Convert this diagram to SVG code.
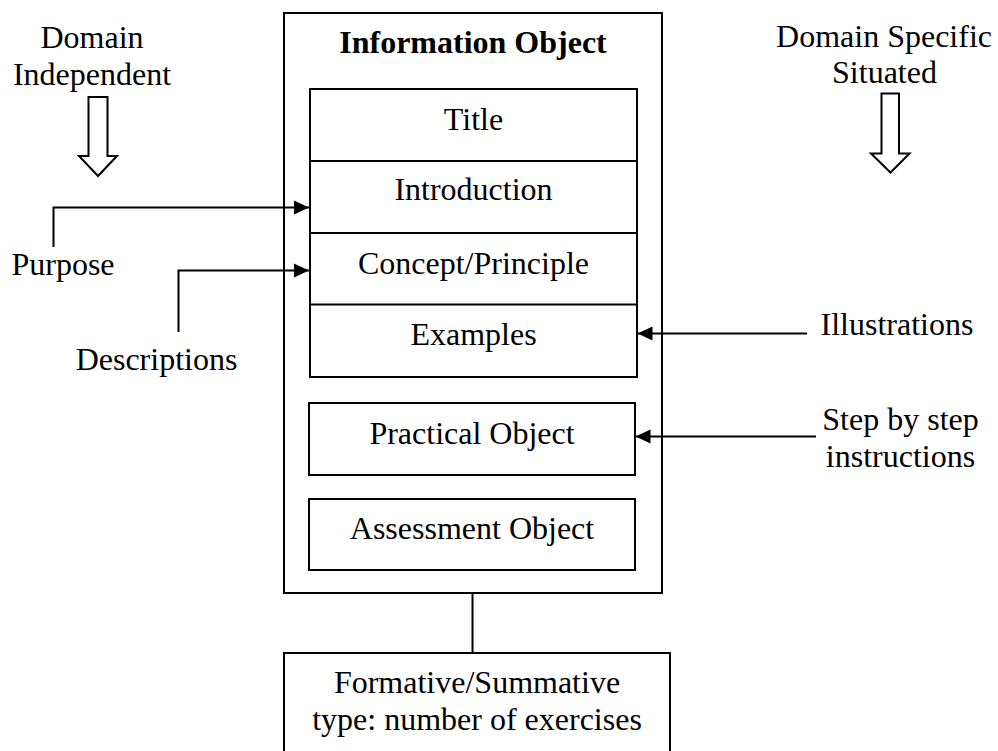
<svg xmlns="http://www.w3.org/2000/svg" width="998" height="751" viewBox="0 0 998 751">
  <style>
    .box { fill: #fff; stroke: #000; stroke-width: 2; }
    .line { fill: none; stroke: #000; stroke-width: 2; }
    .hollow { fill: #fff; stroke: #000; stroke-width: 2; stroke-linejoin: miter; }
    text { font-family: "Liberation Serif", "Times New Roman", serif; font-size: 32px; fill: #000; text-anchor: middle; }
    .bold { font-weight: bold; }
  </style>
  <defs>
    <marker id="arrow" markerUnits="userSpaceOnUse" markerWidth="16" markerHeight="16" viewBox="0 0 16 16" refX="15" refY="8" orient="auto">
      <path d="M0,1 L15,8 L0,15 Z" fill="#000"/>
    </marker>
  </defs>

  <rect width="998" height="751" fill="#fff"/>

  <!-- side labels -->
  <g id="domain-independent">
    <text x="92" y="48">Domain</text>
    <text x="92" y="85">Independent</text>
    <path class="hollow" d="M88.5,97 H107.5 V156 H117 L98,176 L79,156 H88.5 Z"/>
  </g>
  <g id="domain-specific">
    <text x="884" y="47">Domain Specific</text>
    <text x="884.5" y="83">Situated</text>
    <path class="hollow" d="M881.5,93.5 H899 V153.5 H909.5 L890.5,172.5 L871,153.5 H881.5 Z"/>
  </g>
  <g id="purpose"><text x="63" y="275">Purpose</text></g>
  <g id="descriptions"><text x="156.5" y="370">Descriptions</text></g>
  <g id="illustrations"><text x="897" y="335">Illustrations</text></g>
  <g id="steps">
    <text x="900.5" y="430">Step by step</text>
    <text x="900.5" y="467">instructions</text>
  </g>

  <!-- information object container -->
  <g id="information-object">
    <rect class="box" x="284" y="13" width="378" height="580"/>
    <text class="bold" x="473" y="53">Information Object</text>
  </g>

  <!-- stacked content sections -->
  <g id="content">
    <rect class="box" x="310" y="89" width="327" height="288"/>
    <line class="line" x1="310" y1="161" x2="637" y2="161"/>
    <line class="line" x1="310" y1="233" x2="637" y2="233"/>
    <line class="line" x1="310" y1="304.5" x2="637" y2="304.5"/>
  </g>
  <g id="title"><text x="473.5" y="130">Title</text></g>
  <g id="introduction"><text x="473.5" y="200">Introduction</text></g>
  <g id="concept"><text x="473.5" y="274">Concept/Principle</text></g>
  <g id="examples"><text x="473.5" y="345">Examples</text></g>

  <g id="practical-object">
    <rect class="box" x="309" y="403" width="326" height="72"/>
    <text x="472" y="444">Practical Object</text>
  </g>
  <g id="assessment-object">
    <rect class="box" x="309" y="499" width="326" height="71"/>
    <text x="472" y="539">Assessment Object</text>
  </g>

  <g id="assessment-type">
    <rect class="box" x="284" y="653" width="386" height="110"/>
    <text x="477" y="693">Formative/Summative</text>
    <text x="477" y="730">type: number of exercises</text>
  </g>

  <!-- connectors -->
  <g id="connectors">
    <path class="line" d="M53.5,247 V207.5 H309" marker-end="url(#arrow)"/>
    <path class="line" d="M178.5,332 V270.5 H309" marker-end="url(#arrow)"/>
    <path class="line" d="M807,333.5 H637.5" marker-end="url(#arrow)"/>
    <path class="line" d="M816,436.5 H635.5" marker-end="url(#arrow)"/>
    <line class="line" x1="472.5" y1="593" x2="472.5" y2="653"/>
  </g>
</svg>
